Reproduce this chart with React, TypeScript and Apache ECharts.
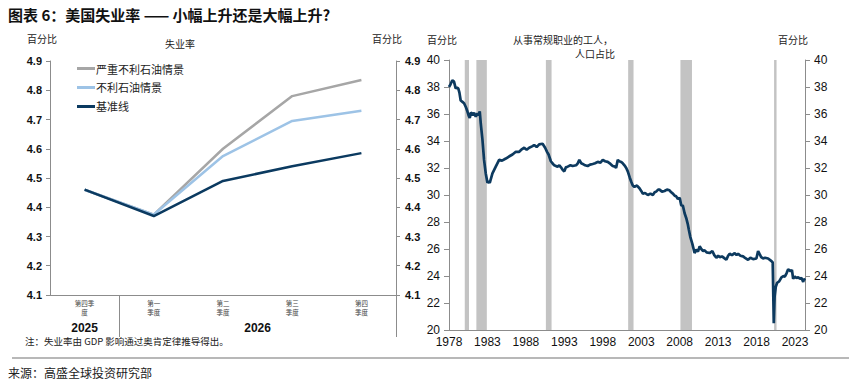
import React, { useEffect, useRef } from "react";
import * as echarts from "echarts";

// ---------- Left chart data ----------
const quarterLabels = ["第四季\n度", "第一\n季度", "第二\n季度", "第三\n季度", "第四\n季度"];
const yearGroupLabels = ["2025", "2026"];
const yearGroupPositions = [0.5, 3];
const yearGroupDividers = [1, 5];
const severeOil = [4.46, 4.375, 4.6, 4.78, 4.835];
const adverseOil = [4.46, 4.375, 4.575, 4.695, 4.73];
const baseline = [4.46, 4.37, 4.49, 4.54, 4.585];
const leftSeriesNames = ["严重不利石油情景", "不利石油情景", "基准线"];

// ---------- Right chart data ----------
const baseYear = 1978;
const routineYears = [
  1978.0, 1978.2, 1978.43, 1978.65, 1978.87, 1979.05, 1979.2, 1979.35, 1979.52, 1979.75, 1979.96,
  1980.2, 1980.39, 1980.55, 1980.7, 1980.85, 1980.96, 1981.1, 1981.26, 1981.48, 1981.7, 1981.85,
  1982.0, 1982.13, 1982.35, 1982.56, 1982.78, 1983.0, 1983.15, 1983.3, 1983.65, 1984.08, 1984.52,
  1984.9, 1985.39, 1985.8, 1986.26, 1986.69, 1987.13, 1987.5, 1987.78, 1988.1, 1988.43, 1988.8,
  1989.08, 1989.4, 1989.73, 1990.17, 1990.5, 1990.75, 1990.95, 1991.25, 1991.45, 1991.69, 1992.12,
  1992.35, 1992.56, 1992.8, 1993.0, 1993.2, 1993.43, 1993.8, 1994.08, 1994.52, 1994.75, 1994.95,
  1995.2, 1995.39, 1995.7, 1996.04, 1996.35, 1996.69, 1997.0, 1997.34, 1997.7, 1998.0, 1998.3,
  1998.64, 1999.0, 1999.29, 1999.6, 1999.73, 1999.95, 2000.15, 2000.38, 2000.6, 2000.82, 2001.05,
  2001.25, 2001.5, 2001.69, 2001.9, 2002.12, 2002.45, 2002.77, 2003.0, 2003.2, 2003.5, 2003.86,
  2004.2, 2004.51, 2004.75, 2004.94, 2005.2, 2005.38, 2005.7, 2006.03, 2006.35, 2006.68, 2006.9,
  2007.12, 2007.35, 2007.55, 2007.77, 2008.0, 2008.2, 2008.42, 2008.64, 2008.85, 2009.07, 2009.2,
  2009.38, 2009.64, 2009.94, 2010.15, 2010.38, 2010.6, 2010.81, 2011.05, 2011.25, 2011.5, 2011.9,
  2012.25, 2012.5, 2012.77, 2013.0, 2013.2, 2013.5, 2013.85, 2014.07, 2014.3, 2014.5, 2014.8,
  2015.16, 2015.4, 2015.6, 2015.9, 2016.25, 2016.5, 2016.9, 2017.2, 2017.55, 2017.98, 2018.2,
  2018.42, 2018.6, 2018.85, 2019.1, 2019.5, 2019.94, 2020.1, 2020.24, 2020.35, 2020.5, 2020.68,
  2020.94, 2021.24, 2021.5, 2021.68, 2021.9, 2022.11, 2022.42, 2022.6, 2022.76, 2022.98, 2023.2,
  2023.42, 2023.65, 2023.85, 2024.07, 2024.15, 2024.29,
];
const routineShare = [
  38.0, 38.2, 38.5, 38.4, 37.9, 37.95, 37.9, 37.6, 37.0, 36.9, 36.8,
  36.5, 36.2, 35.9, 35.7, 36.1, 36.05, 35.9, 36.1, 35.8, 36.05, 35.9,
  36.2, 35.3, 34.1, 32.6, 31.6, 30.9, 31.0, 30.9, 31.6, 32.1, 32.6,
  32.55, 32.7, 32.85, 33.0, 33.2, 33.2, 33.4, 33.5, 33.35, 33.5, 33.6,
  33.7, 33.55, 33.75, 33.8, 33.5, 33.2, 33.0, 32.5, 32.35, 32.2, 32.1,
  32.2, 32.05, 31.85, 31.75, 32.05, 32.1, 32.2, 32.15, 32.2, 32.35, 32.6,
  32.35, 32.3, 32.2, 32.15, 32.25, 32.3, 32.35, 32.45, 32.4, 32.6, 32.5,
  32.45, 32.3, 32.15, 32.1, 32.0, 32.6, 32.5, 32.45, 32.35, 32.2, 32.0,
  31.75, 31.3, 31.0, 30.7, 30.6, 30.7, 30.5, 30.3, 30.1, 30.15, 30.0,
  30.1, 30.0, 30.2, 30.25, 30.4, 30.4, 30.25, 30.3, 30.4, 30.35, 30.2,
  30.1, 29.95, 29.9, 29.7, 29.8, 29.25, 29.2, 28.65, 28.3, 27.8, 27.4,
  26.9, 26.4, 25.7, 25.95, 25.8, 26.2, 26.0, 25.85, 25.9, 25.75, 25.7,
  25.85, 25.55, 25.35, 25.5, 25.4, 25.45, 25.3, 25.2, 25.5, 25.65, 25.55,
  25.7, 25.55, 25.65, 25.5, 25.45, 25.35, 25.2, 25.35, 25.25, 25.3, 25.85,
  25.6, 25.4, 25.3, 25.35, 25.3, 25.1, 25.0, 20.5, 22.5, 23.2, 23.5,
  23.6, 23.9, 24.0, 23.95, 24.2, 24.5, 24.35, 24.45, 23.8, 23.95, 23.85,
  23.9, 23.8, 23.85, 23.55, 23.8, 23.65,
];
const recessionStarts = [1980.05, 1981.56, 1990.6, 2001.3, 2008.1, 2020.28];
const recessionEnds = [1980.6, 1982.92, 1991.34, 2002.0, 2009.6, 2020.6];

const CJK = "'Noto Sans CJK SC', 'Liberation Sans', sans-serif";
const NUM = "'Liberation Sans', Arial, sans-serif";
const AXIS_GRAY = "#8c8c8c";

function App() {
  const ref = useRef<HTMLDivElement>(null);

  useEffect(() => {
    if (!ref.current) return;
    const chart = echarts.init(ref.current, undefined, { renderer: "svg" });

    const leftColors = ["#a6a6a6", "#9dc3e6", "#0b3a60"];
    const leftData = [severeOil, adverseOil, baseline];

    const headerText = (x: number, y: number, text: string, size = 10, extra: any = {}) => ({
      type: "text",
      x,
      y,
      style: { text, fontSize: size, fontFamily: CJK, fill: "#222", textVerticalAlign: "middle", ...extra },
    });

    const option: any = {
      animation: false,
      textStyle: { fontFamily: CJK },
      grid: [
        { left: 50, top: 61, width: 346, height: 234 },
        { left: 449, top: 60, width: 356, height: 270 },
      ],
      legend: {
        orient: "vertical",
        left: 77,
        top: 63,
        itemWidth: 18,
        itemHeight: 3,
        itemGap: 8,
        icon: "rect",
        padding: 0,
        data: leftSeriesNames,
        textStyle: { fontSize: 11, color: "#222", fontFamily: CJK, padding: [0, 0, 0, -4] },
      },
      xAxis: [
        {
          gridIndex: 0,
          type: "category",
          data: quarterLabels,
          boundaryGap: true,
          axisLine: { lineStyle: { color: AXIS_GRAY, width: 1 } },
          axisTick: { length: 20, lineStyle: { color: AXIS_GRAY } },
          axisLabel: { fontSize: 6.5, lineHeight: 9, color: "#444", margin: 3, fontFamily: CJK },
        },
        {
          gridIndex: 0,
          type: "value",
          min: 0,
          max: 5,
          position: "bottom",
          axisLine: { show: false },
          splitLine: { show: false },
          axisTick: { show: true, customValues: yearGroupDividers, length: 42, lineStyle: { color: AXIS_GRAY } },
          axisLabel: {
            customValues: yearGroupPositions,
            formatter: (v: number) => {
              const i = yearGroupPositions.indexOf(v);
              return i >= 0 ? yearGroupLabels[i] : "";
            },
            margin: 27,
            fontSize: 12,
            fontWeight: "bold",
            color: "#111",
            fontFamily: NUM,
          },
        },
        {
          gridIndex: 1,
          type: "value",
          min: 0,
          max: 46.3,
          interval: 5,
          axisLine: { lineStyle: { color: AXIS_GRAY } },
          axisTick: { show: false },
          splitLine: { show: false },
          axisLabel: {
            formatter: (v: number) => String(baseYear + v),
            fontSize: 12,
            color: "#111",
            fontFamily: NUM,
            margin: 6,
            showMaxLabel: false,
          },
        },
      ],
      yAxis: [
        ...["left", "right"].map((pos) => ({
          gridIndex: 0,
          type: "value",
          position: pos,
          min: 4.1,
          max: 4.9,
          interval: 0.1,
          axisLine: { show: true, lineStyle: { color: AXIS_GRAY } },
          axisTick: { show: true, length: 4, lineStyle: { color: AXIS_GRAY } },
          splitLine: { show: false },
          axisLabel: {
            formatter: (v: number) => v.toFixed(1),
            fontSize: 11,
            fontWeight: "bold",
            color: "#111",
            fontFamily: NUM,
            margin: pos === "left" ? 8 : 9,
          },
        })),
        ...["left", "right"].map((pos) => ({
          gridIndex: 1,
          type: "value",
          position: pos,
          min: 20,
          max: 40,
          interval: 2,
          axisLine: { show: true, lineStyle: { color: AXIS_GRAY } },
          axisTick: { show: true, length: 5, lineStyle: { color: AXIS_GRAY } },
          splitLine: { show: false },
          axisLabel: { fontSize: 12, color: "#111", fontFamily: NUM, margin: 9 },
        })),
      ],
      series: [
        ...leftSeriesNames.map((name, i) => ({
          name,
          type: "line",
          xAxisIndex: 0,
          yAxisIndex: 0,
          data: leftData[i],
          symbol: "none",
          lineStyle: { color: leftColors[i], width: 2.5 },
          itemStyle: { color: leftColors[i] },
          z: 3 + i,
        })),
        {
          name: "routine",
          type: "line",
          xAxisIndex: 2,
          yAxisIndex: 2,
          data: routineYears.map((y, i) => [y - baseYear, routineShare[i]]),
          symbol: "none",
          lineStyle: { color: "#0d3a5f", width: 2.7 },
          z: 5,
          markArea: {
            silent: true,
            itemStyle: { color: "#c3c3c3" },
            data: recessionStarts.map((s, i) => [{ xAxis: s - baseYear }, { xAxis: recessionEnds[i] - baseYear }]),
          },
        },
      ],
      graphic: [
        headerText(8, 14, "图表 6：美国失业率 —— 小幅上升还是大幅上升?", 15, { fontWeight: "bold", fill: "#111" }),
        headerText(27, 38, "百分比", 10),
        headerText(165, 43, "失业率", 10),
        headerText(372, 38, "百分比", 10),
        headerText(427, 39, "百分比", 10),
        headerText(513, 39, "从事常规职业的工人，", 10),
        headerText(575, 53, "人口占比", 10),
        headerText(778, 39, "百分比", 10),
        headerText(25, 341, "注：失业率由 GDP 影响通过奥肯定律推导得出。", 9.5),
        {
          type: "line",
          shape: { x1: 12, y1: 358, x2: 849, y2: 358 },
          style: { stroke: "#a0a0a0", lineWidth: 1.5 },
        },
        headerText(8, 372, "来源：高盛全球投资研究部", 12),
      ],
    };

    chart.setOption(option);
    return () => chart.dispose();
  }, []);

  return (
    <div
      ref={ref}
      style={{ position: "fixed", left: 0, top: 0, width: 849, height: 384, background: "#fff" }}
    />
  );
}

export default App;
